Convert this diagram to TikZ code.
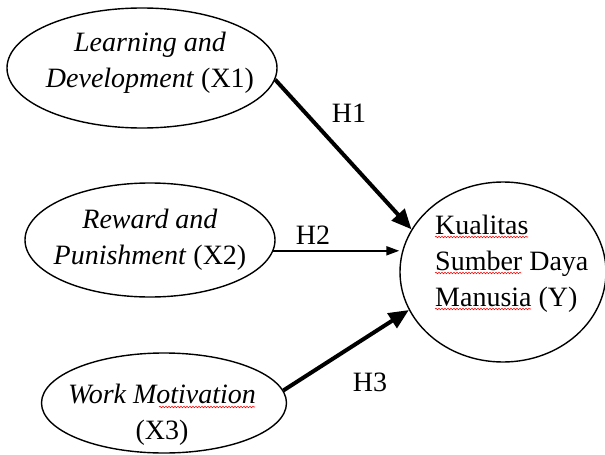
\documentclass[tikz,border=0pt]{standalone}
\usepackage{fontspec}
\setmainfont{Liberation Serif}
\usetikzlibrary{arrows.meta,shapes.geometric,decorations.pathmorphing}
\tikzset{
  var/.style={ellipse,draw,line width=1.4pt,inner sep=0pt},
  txt/.style={font=\fontsize{28}{36}\selectfont,align=center,inner sep=0pt},
  strong/.style={-{Triangle[length=20pt,width=17pt]},line width=4pt},
  weak/.style={-{Triangle[length=13pt,width=9pt]},line width=2pt},
  typo/.style={red,line width=.6pt,decorate,decoration={snake,amplitude=.7pt,segment length=3pt}}
}
\begin{document}
\begin{tikzpicture}[x=1pt,y=-1pt]
\useasboundingbox (0,0) rectangle (605,455);
% latent variables
\node[var,minimum width=270pt,minimum height=120pt] (x1) at (142,68) {};
\node[var,minimum width=250pt,minimum height=114pt] (x2) at (150,240) {};
\node[var,minimum width=245pt,minimum height=100pt] (x3) at (164,403) {};
\node[var,minimum width=206pt,minimum height=180pt] (y) at (503,272) {};
\node[txt] (x1t) at (150,63) {\textit{Learning and}\\\textit{Development} (X1)};
\node[txt] (x2t) at (150,240) {\textit{Reward and}\\\textit{Punishment} (X2)};
\node[txt] (x3t) at (162,415) {\textit{Work Motivation}\\(X3)};
\node[txt,align=left,anchor=west] (yt) at (435,264) {Kualitas\\Sumber Daya\\Manusia (Y)};
% spelling marks
\draw[typo] (159,407)--(255,407);
\draw[typo] (435,237)--(528,237);
\draw[typo] (435,273)--(521,273);
\draw[typo] (435,309)--(531,309);
% paths
\draw[strong] (x1.-5) -- (y.155);
\draw[weak] (x2.-5) -- (x2.-5 -| y.west);
\draw[strong] (x3.6) -- (y.-158);
\node[txt] (h1) at (349,113) {H1};
\node[txt] (h2) at (313,235) {H2};
\node[txt] (h3) at (370,382) {H3};
\end{tikzpicture}
\end{document}
